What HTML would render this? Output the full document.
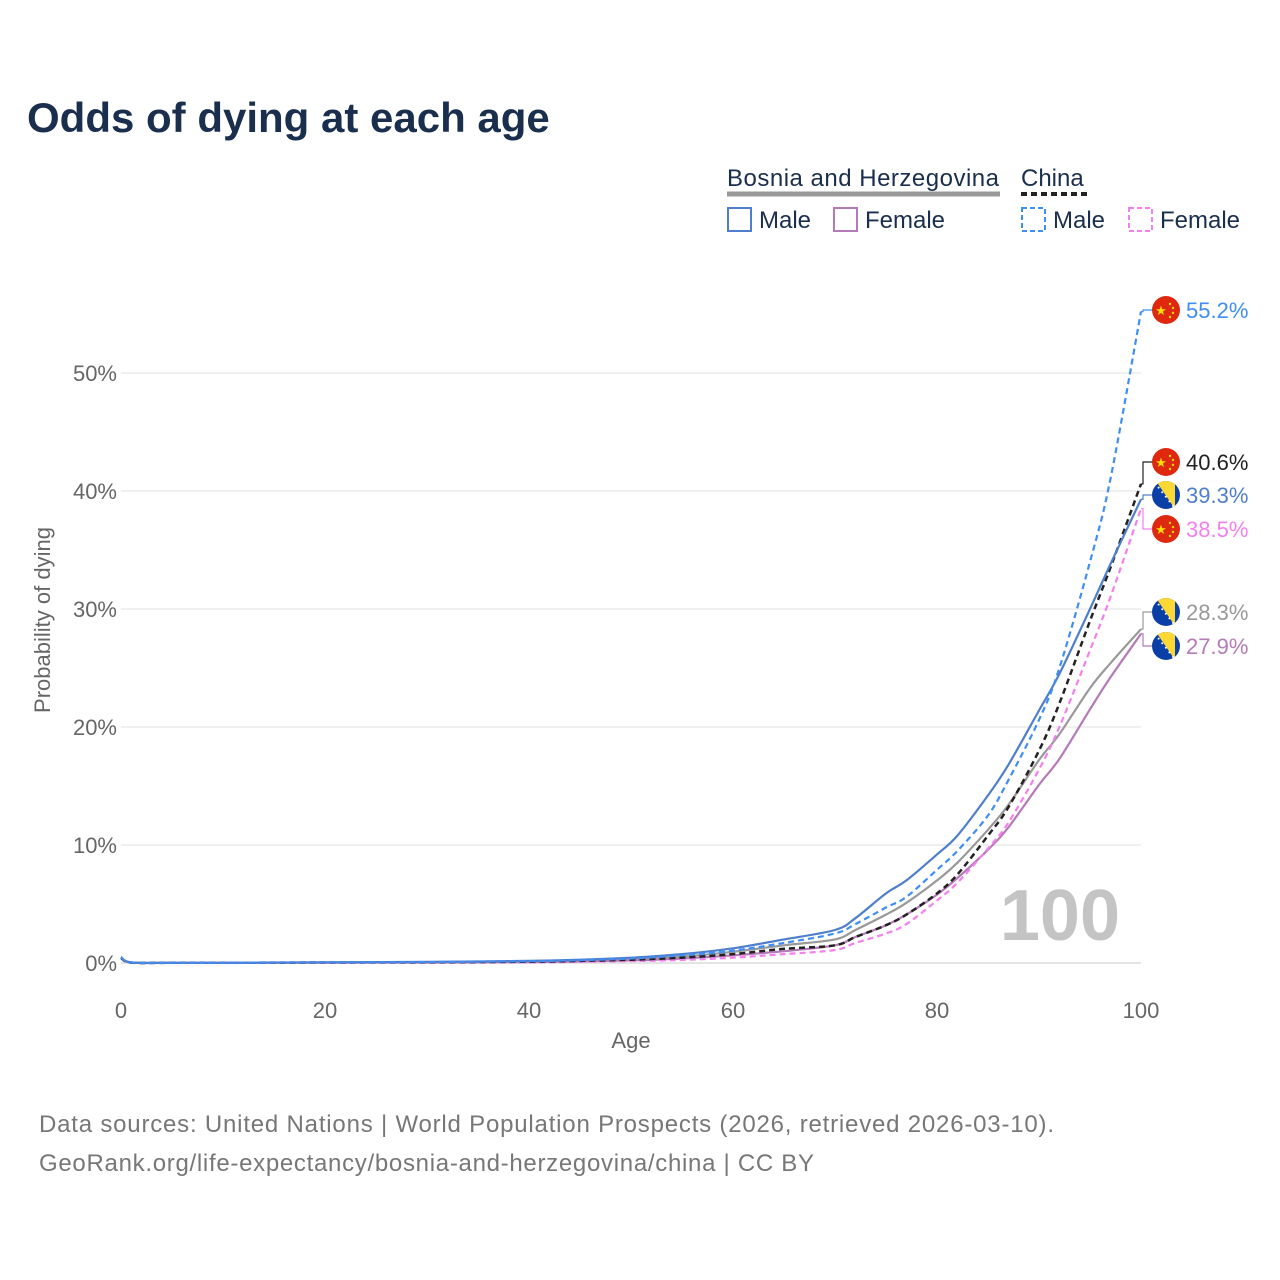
<!DOCTYPE html>
<html><head><meta charset="utf-8"><style>
body{margin:0;background:#fff;font-family:"Liberation Sans",sans-serif}
#wrap{position:relative;width:1280px;height:1280px;overflow:hidden}
svg text{font-family:"Liberation Sans",sans-serif}
</style></head><body>
<div id="wrap">
<svg id="chart" width="1280" height="1280" xmlns="http://www.w3.org/2000/svg">
<text x="27" y="132" font-size="42" font-weight="bold" fill="#1a2e4d">Odds of dying at each age</text>
<g>
<text x="727" y="186" font-size="24" fill="#1a2e4d" textLength="272">Bosnia and Herzegovina</text>
<line x1="727" y1="194" x2="1000" y2="194" stroke="#999" stroke-width="5"/>
<text x="1021" y="186" font-size="24" fill="#1a2e4d">China</text>
<line x1="1021" y1="194" x2="1088" y2="194" stroke="#222" stroke-width="4" stroke-dasharray="6,4"/>
<rect x="728" y="208" width="23" height="23" fill="none" stroke="#4f7fcc" stroke-width="2"/>
<text x="759" y="228" font-size="24" fill="#1a2e4d">Male</text>
<rect x="834" y="208" width="23" height="23" fill="none" stroke="#b57ab8" stroke-width="2"/>
<text x="865" y="228" font-size="24" fill="#1a2e4d">Female</text>
<rect x="1022" y="208" width="23" height="23" fill="none" stroke="#3f8ef5" stroke-width="2" stroke-dasharray="5,3"/>
<text x="1053" y="228" font-size="24" fill="#1a2e4d">Male</text>
<rect x="1129" y="208" width="23" height="23" fill="none" stroke="#f57fee" stroke-width="2" stroke-dasharray="5,3"/>
<text x="1160" y="228" font-size="24" fill="#1a2e4d">Female</text>
</g>
<g id="grid"></g>
<text x="1120" y="940" font-size="72" font-weight="bold" fill="#c4c4c4" text-anchor="end">100</text>
<g id="series"></g>
<g id="labels"></g>
<text x="631" y="1048" font-size="22" fill="#666" text-anchor="middle">Age</text>
<text transform="translate(50,620) rotate(-90)" font-size="22" fill="#666" text-anchor="middle">Probability of dying</text>
<text x="39" y="1132" font-size="24" fill="#777" textLength="1015">Data sources: United Nations | World Population Prospects (2026, retrieved 2026-03-10).</text>
<text x="39" y="1171" font-size="24" fill="#777" textLength="775">GeoRank.org/life-expectancy/bosnia-and-herzegovina/china | CC BY</text>
</svg></div>
<script>
const ages = [0,1,5,10,20,30,40,45,50,55,60,65,70,72,75,77,80,82,85,87,90,92,95,97,100];
const bihMale    = [0.5,0.05,0.02,0.02,0.06,0.09,0.18,0.28,0.45,0.75,1.25,2.0,2.8,3.8,5.9,7.0,9.2,10.8,14.2,16.8,21.4,24.5,30.0,33.8,39.3];
const bihFemale  = [0.45,0.04,0.01,0.01,0.03,0.04,0.08,0.13,0.22,0.38,0.65,1.0,1.5,2.2,3.2,4.1,5.8,7.2,9.6,11.5,15.1,17.3,21.5,24.2,27.9];
const bihTotal   = [0.48,0.04,0.02,0.02,0.04,0.06,0.13,0.2,0.33,0.55,0.95,1.5,2.0,2.8,4.1,5.1,7.0,8.5,11.3,13.4,17.2,19.4,23.3,25.4,28.3];
const chnMale    = [0.5,0.04,0.02,0.02,0.05,0.08,0.15,0.24,0.38,0.65,1.05,1.7,2.5,3.3,4.7,5.6,7.9,9.5,12.5,15.5,20.6,25.0,34.0,41.0,55.2];
const chnTotal   = [0.45,0.03,0.02,0.02,0.04,0.06,0.11,0.18,0.28,0.45,0.75,1.2,1.5,2.2,3.2,4.1,5.9,7.5,10.8,13.2,18.0,22.0,29.0,33.5,40.6];
const chnFemale  = [0.4,0.03,0.01,0.01,0.02,0.03,0.06,0.1,0.16,0.26,0.45,0.75,1.1,1.7,2.5,3.3,5.3,6.8,9.7,11.9,16.4,20.0,26.5,31.0,38.5];
const yTicks = [0,10,20,30,40,50];
const xTicks = [0,20,40,60,80,100];
const NS="http://www.w3.org/2000/svg";
const X=a=>121+a*10.2, Y=v=>963-v*11.8;
function mk(t,at,parent){const e=document.createElementNS(NS,t);for(const k in at)e.setAttribute(k,at[k]);parent.appendChild(e);return e;}
const grid=document.getElementById('grid');
yTicks.forEach(t=>{
 const l=mk('line',{x1:121,x2:1141,y1:Y(t),y2:Y(t),stroke:t===0?'#e4e4e4':'#ebebeb','stroke-width':t===0?2:1.5},grid);
 
 
 const tx=mk('text',{x:117,y:Y(t)+8,'font-size':22,fill:'#666','text-anchor':'end'},grid);tx.textContent=t+'%';
 
 
});
xTicks.forEach(t=>{
 const tx=mk('text',{x:X(t),y:1018,'font-size':22,fill:'#666','text-anchor':'middle'},grid);tx.textContent=t;
 
 
});
function smooth(d){
 const P=d.map((v,i)=>[X(ages[i]),Y(v)]);
 let s='M'+P[0][0].toFixed(1)+','+P[0][1].toFixed(1);
 for(let i=0;i<P.length-1;i++){
  const p0=P[Math.max(0,i-1)],p1=P[i],p2=P[i+1],p3=P[Math.min(P.length-1,i+2)];
  const c1=[p1[0]+(p2[0]-p0[0])/6,p1[1]+(p2[1]-p0[1])/6];
  const c2=[p2[0]-(p3[0]-p1[0])/6,p2[1]-(p3[1]-p1[1])/6];
  s+='C'+c1.map(n=>n.toFixed(1))+' '+c2.map(n=>n.toFixed(1))+' '+p2.map(n=>n.toFixed(1));
 }
 return s;
}
const series=[
 {n:'bih-total',d:bihTotal,c:'#999',dash:null,w:2.2},
 {n:'bih-female',d:bihFemale,c:'#b57ab8',dash:null,w:2.2},
 {n:'china-female',d:chnFemale,c:'#f57fee',dash:'6,4',w:2.2},
 {n:'china-total',d:chnTotal,c:'#222',dash:'6,4',w:2.5},
 {n:'bih-male',d:bihMale,c:'#4f7fcc',dash:null,w:2.2},
 {n:'china-male',d:chnMale,c:'#3f8ef5',dash:'6,4',w:2.2}
];
const sg=document.getElementById('series');
series.forEach(s=>{
 const p=mk('path',{d:smooth(s.d),fill:'none',stroke:s.c,'stroke-width':s.w,'stroke-linejoin':'round'},sg);
 if(s.dash)p.setAttribute('stroke-dasharray',s.dash);
 
 
});
const labs=[
 {d:chnMale,c:'#3f8ef5',ly:310,f:'cn',n:'china-male'},
 {d:chnTotal,c:'#222',ly:462,f:'cn',n:'china-total'},
 {d:bihMale,c:'#4f7fcc',ly:495,f:'ba',n:'bih-male'},
 {d:chnFemale,c:'#f57fee',ly:529,f:'cn',n:'china-female'},
 {d:bihTotal,c:'#999',ly:612,f:'ba',n:'bih-total'},
 {d:bihFemale,c:'#b57ab8',ly:646,f:'ba',n:'bih-female'}
];
const lg=document.getElementById('labels');
labs.forEach(L=>{
 const v=L.d[L.d.length-1],ey=Y(v);
 mk('path',{d:`M1141,${ey}L1143,${ey}L1143,${L.ly}L1152,${L.ly}`,fill:'none',stroke:L.c,'stroke-width':1.2},lg);
 const g=mk('g',{},lg);
 
 
 const cx=1166,cy=L.ly;
 if(L.f==='cn'){
  mk('circle',{cx,cy,r:14,fill:'#de2910'},g);
  const s=mk('text',{x:cx-5,y:cy+5,'font-size':13,fill:'#ffde00','text-anchor':'middle'},g);s.textContent='★';
  [[4,-6],[7,-2],[7,3],[4,7]].forEach(o=>mk('circle',{cx:cx+o[0],cy:cy+o[1],r:1.2,fill:'#ffde00'},g));
 } else {
  const id='clip'+L.ly;
  const cp=mk('clipPath',{id},g);mk('circle',{cx,cy,r:14},cp);
  const gg=mk('g',{'clip-path':`url(#${id})`},g);
  mk('rect',{x:cx-14,y:cy-14,width:28,height:28,fill:'#0a3fa8'},gg);
  mk('polygon',{points:`${cx-10},${cy-14} ${cx+9},${cy-14} ${cx+9},${cy+14}`,fill:'#fdd835'},gg);
  for(let k=0;k<6;k++)mk('circle',{cx:cx-11+k*3.6,cy:cy-12+k*4.6,r:1,fill:'#fff'},gg);
 }
 const t=mk('text',{x:1186,y:L.ly+8,'font-size':22,fill:L.c},lg);t.textContent=v.toFixed(1)+'%';
 
 
});
</script>
</body></html>
